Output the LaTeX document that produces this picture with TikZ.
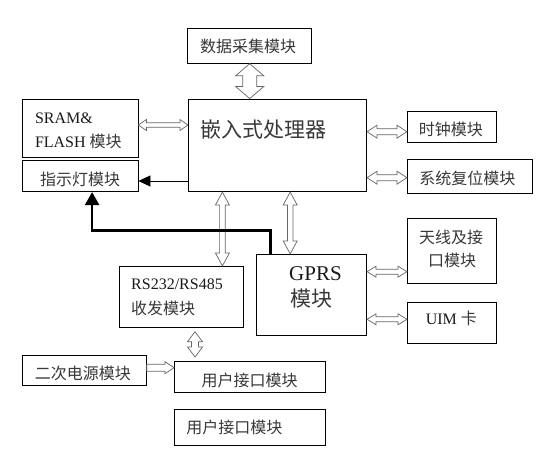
\documentclass[tikz,border=0pt]{standalone}
\usepackage{fontspec}
\setmainfont{Liberation Serif}
\newfontfamily\cjk{Noto Sans CJK SC}
\usetikzlibrary{arrows.meta,calc}
\tikzset{
  box/.style={draw=black, line width=0.8pt, inner sep=0pt},
  txt/.style={inner sep=0pt, font=\fontsize{16pt}{19pt}\selectfont, text=black!78},
  big/.style={font=\fontsize{21pt}{25pt}\selectfont},
  harrow/.style={draw=black!60, line width=0.7pt, fill=white, line join=miter},
  solidarrow/.style={draw=black, line width=0.8pt, -{Triangle[length=12pt,width=11pt]}},
  thickarrow/.style={draw=black, line width=2.5pt, line join=miter, -{Triangle[length=13pt,width=14pt]}}
}
% hollow double arrow: #1 start, #2 end, #3 shaft half width, #4 head half width, #5 head length (pt)
\newcommand\dblarr[5]{%
  \path[harrow] let \p1=(#1), \p2=(#2),
    \n1={veclen(\x2-\x1,\y2-\y1)}, \n2={atan2(\y2-\y1,\x2-\x1)} in
    {[shift={(\x1,\y1)}, rotate=\n2]
    (0pt,0pt) -- (#5pt,#4pt) -- (#5pt,#3pt) -- ({\n1-#5pt},#3pt) -- ({\n1-#5pt},#4pt)
    -- (\n1,0pt) -- ({\n1-#5pt},-#4pt) -- ({\n1-#5pt},-#3pt) -- (#5pt,-#3pt) -- (#5pt,-#4pt) -- cycle};}
% hollow single arrow
\newcommand\sglarr[5]{%
  \path[harrow] let \p1=(#1), \p2=(#2),
    \n1={veclen(\x2-\x1,\y2-\y1)}, \n2={atan2(\y2-\y1,\x2-\x1)} in
    {[shift={(\x1,\y1)}, rotate=\n2]
    (0pt,#3pt) -- ({\n1-#5pt},#3pt) -- ({\n1-#5pt},#4pt)
    -- (\n1,0pt) -- ({\n1-#5pt},-#4pt) -- ({\n1-#5pt},-#3pt) -- (0pt,-#3pt) -- cycle};}
\begin{document}
\begin{tikzpicture}[x=1pt,y=-1pt]
\useasboundingbox[fill=white] (0,0) rectangle (545,465);
% boxes
\node[box, minimum width=124pt, minimum height=35pt] (data) at (249.7,45.8) {};
\node[box, minimum width=178.3pt, minimum height=92.7pt] (cpu) at (277.5,145.3) {};
\node[box, minimum width=115.8pt, minimum height=58.3pt] (sram) at (80.1,128.2) {};
\node[box, minimum width=115.8pt, minimum height=31.4pt] (led) at (80.1,176) {};
\node[box, minimum width=88.9pt, minimum height=30.6pt] (clk) at (451.8,127) {};
\node[box, minimum width=125.1pt, minimum height=34pt] (rst) at (469.9,176.3) {};
\node[box, minimum width=88.9pt, minimum height=65pt] (ant) at (451.8,250.8) {};
\node[box, minimum width=88.9pt, minimum height=41pt] (uim) at (451.8,322.8) {};
\node[box, minimum width=110.1pt, minimum height=81pt] (gprs) at (311.6,294.8) {};
\node[box, minimum width=124.1pt, minimum height=60.7pt] (rs) at (181.3,296.7) {};
\node[box, minimum width=124.1pt, minimum height=30pt] (pwr) at (84.3,370.3) {};
\node[box, minimum width=150.9pt, minimum height=30.6pt] (ui1) at (249.9,377) {};
\node[box, minimum width=150.9pt, minimum height=36pt] (ui2) at (249.9,427.3) {};
% texts
\node[txt] (tdata) at (248,46.7) {\cjk 数据采集模块};
\node[txt, big] (tcpu) at (263.8,130) {\cjk 嵌入式处理器};
\node[txt, anchor=base west, text=black!90] (tsram1) at (34.8,123.6) {SRAM\&};
\node[txt, anchor=base west, text=black!90] (tsram2) at (34.8,147.3) {FLASH {\color{black!78}\cjk 模块}};
\node[txt] (tled) at (80,179) {\cjk 指示灯模块};
\node[txt] (tclk) at (450.9,129.3) {\cjk 时钟模块};
\node[txt] (trst) at (467.4,178.3) {\cjk 系统复位模块};
\node[txt] (tant1) at (451,237.7) {\cjk 天线及接};
\node[txt] (tant2) at (452,260) {\cjk 口模块};
\node[txt, anchor=base, text=black!90] (tuim) at (451.4,324.6) {UIM {\color{black!78}\cjk 卡}};
\node[txt, big, anchor=base, text=black!90] (tgp1) at (315.5,280.3) {GPRS};
\node[txt, big, anchor=base] (tgp2) at (311,306.3) {\cjk 模块};
\node[txt, anchor=base west, text=black!90] (trs1) at (131,289.6) {RS232/RS485};
\node[txt, anchor=base west] (trs2) at (131,314.4) {\cjk 收发模块};
\node[txt] (tpwr) at (82.9,373) {\cjk 二次电源模块};
\node[txt] (tui1) at (249.7,380.7) {\cjk 用户接口模块};
\node[txt] (tui2) at (234.4,427.7) {\cjk 用户接口模块};
% helper coordinates
\coordinate (ysram) at (0,125);
\coordinate (yclk) at (0,131.7);
\coordinate (yrst) at (0,177.7);
\coordinate (yled) at (0,181);
\coordinate (xrs) at (222.4,0);
\coordinate (xgp) at (290.2,0);
\coordinate (yant) at (0,271.7);
\coordinate (yuim) at (0,319.3);
\coordinate (ypw) at (0,367.7);
\coordinate (ru1) at (195,331.7);
\coordinate (ru2) at (195,357);
\coordinate (tk1) at (270.4,230.7);
\coordinate (tk2) at (92.1,230.7);
% hollow arrows
\dblarr{data.south}{data.south |- cpu.north}{7}{14}{12}
\dblarr{sram.east |- ysram}{cpu.west |- ysram}{2.2}{5.5}{8}
\dblarr{cpu.east |- yclk}{clk.west |- yclk}{3}{6.5}{10}
\dblarr{cpu.east |- yrst}{rst.west |- yrst}{3}{6.5}{10}
\dblarr{cpu.south -| xrs}{rs.north -| xrs}{2.8}{7}{13}
\dblarr{cpu.south -| xgp}{gprs.north -| xgp}{2.8}{7}{13}
\dblarr{gprs.east |- yant}{ant.west |- yant}{2.5}{5.5}{9}
\dblarr{gprs.east |- yuim}{uim.west |- yuim}{2.5}{5.5}{9}
\dblarr{ru1}{ru2}{3.5}{7.5}{10}
\sglarr{pwr.east |- ypw}{ui1.west |- ypw}{3.5}{6}{9}
% solid arrows
\draw[solidarrow] (cpu.west |- yled) -- (led.east |- yled);
\draw[thickarrow] (gprs.north -| tk1) -- (tk1) -- (tk2) -- (led.south -| tk2);
\end{tikzpicture}
\end{document}
